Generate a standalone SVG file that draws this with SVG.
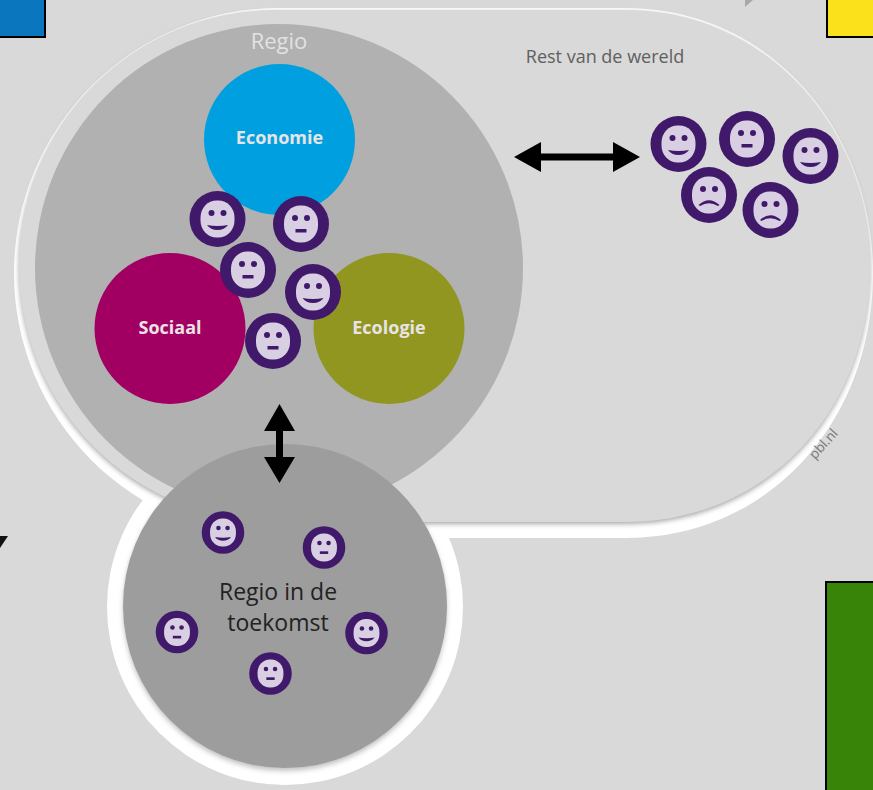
<svg xmlns="http://www.w3.org/2000/svg" width="873" height="790" viewBox="0 0 873 790">
<defs>
<filter id="b2" x="-10%" y="-10%" width="120%" height="120%"><feGaussianBlur stdDeviation="2.500"/></filter>
<filter id="b1" x="-10%" y="-10%" width="120%" height="120%"><feGaussianBlur stdDeviation="0.600"/></filter>
<path id="outer" d="M279 8 H625 C770 8 873 130 873 273 C873 420 770 538 625 538 H279 A265 265 0 0 1 279 8Z"/>
<path id="inner" d="M275 10 H625 C768 10 870 130 870 266 C870 410 768 522 625 522 H275 A256 256 0 0 1 275 10Z"/>
<g id="neutral"><circle r="28" class="o"/><rect x="-17" y="-18.500" width="34" height="37" rx="16" ry="17" class="f"/><circle cx="-6" cy="-6" r="3" class="o"/><circle cx="6" cy="-6" r="3" class="o"/><rect x="-5.500" y="5" width="11" height="3.500" class="o"/></g>
<g id="happy"><circle r="28" class="o"/><rect x="-17" y="-18.500" width="34" height="37" rx="16" ry="17" class="f"/><circle cx="-6" cy="-6" r="3" class="o"/><circle cx="6" cy="-6" r="3" class="o"/><path d="M-10.500 6 Q0 8 10.500 6 Q7 11 0 11 Q-7 11 -10.500 6Z" class="o"/></g>
<g id="sad"><circle r="28" class="o"/><rect x="-17" y="-18.500" width="34" height="37" rx="16" ry="17" class="f"/><circle cx="-6" cy="-6" r="3" class="o"/><circle cx="6" cy="-6" r="3" class="o"/><path d="M-10.500 10 Q0 0.500 10.500 10 L9 11 Q0 5.500 -9 11Z" class="o"/></g>
</defs>
<style>
.o{fill:#41196b}
.f{fill:#d9cfe3}
text{font-family:"Open Sans","Noto Sans",sans-serif}
.b{font-weight:700;font-size:18px;fill:#e9e4e4;text-anchor:middle}
.box{stroke:#000;stroke-width:2}
</style>
<rect id="background" width="873" height="790" fill="#d9d9d9"/>
<rect id="box-blue" x="-2" y="-2" width="47" height="39" fill="#0a76bd" class="box"/>
<rect id="box-yellow" x="827" y="-2" width="50" height="39" fill="#fae11c" class="box"/>
<rect id="box-green" x="826" y="582" width="50" height="212" fill="#378408" class="box"/>
<path id="mark-black" d="M0 536 H8 L0 548Z" fill="#111"/>
<path id="mark-grey" d="M745 0 H753 L745 7Z" fill="#a8a8a8"/>
<g id="rest-van-de-wereld">
<use href="#outer" fill="#fff"/>
<circle cx="285" cy="607" r="178" fill="#fff"/>
<circle cx="285" cy="609" r="162" fill="#c2c2c2" filter="url(#b2)"/>
<use href="#inner" y="2" fill="#a8a8a8" filter="url(#b2)"/>
<use href="#inner" fill="#d9d9d9" filter="url(#b1)"/>
<text x="605" y="63" font-size="18" fill="#606060" text-anchor="middle">Rest van de wereld</text>
<text transform="translate(815 460) rotate(-48)" font-size="13.500" fill="#777">pbl.nl</text>
</g>
<g id="regio">
<circle cx="279" cy="268" r="244" fill="#b1b1b1"/>
<text x="279" y="49" font-size="22" fill="#e2e2e2" text-anchor="middle">Regio</text>
</g>
<g id="economie"><circle cx="279.500" cy="139.500" r="75.500" fill="#00a0e0"/><text x="279.500" y="144" class="b">Economie</text></g>
<g id="sociaal"><circle cx="170" cy="328.500" r="75.500" fill="#a10062"/><text x="170" y="334" class="b">Sociaal</text></g>
<g id="ecologie"><circle cx="389" cy="328.500" r="75.500" fill="#919620"/><text x="389" y="334" class="b">Ecologie</text></g>
<g id="faces-regio">
<use href="#happy" x="217.500" y="219"/>
<use href="#neutral" x="301" y="224"/>
<use href="#neutral" x="248" y="270"/>
<use href="#happy" x="313" y="292"/>
<use href="#neutral" x="273" y="341"/>
</g>
<g id="faces-wereld">
<use href="#happy" x="678.500" y="144"/>
<use href="#neutral" x="747" y="139"/>
<use href="#happy" x="810.500" y="156"/>
<use href="#sad" x="709" y="195"/>
<use href="#sad" x="770.500" y="210"/>
</g>
<g id="toekomst">
<circle cx="285" cy="606" r="162" fill="#9d9d9d"/>
<text x="278" y="600" font-size="23" fill="#222" text-anchor="middle">Regio in de</text>
<text x="278" y="631" font-size="23" fill="#222" text-anchor="middle">toekomst</text>
<g transform="translate(223 532.500) scale(.76)"><use href="#happy"/></g>
<g transform="translate(324 547.500) scale(.76)"><use href="#neutral"/></g>
<g transform="translate(177 632) scale(.76)"><use href="#neutral"/></g>
<g transform="translate(366.500 633) scale(.76)"><use href="#happy"/></g>
<g transform="translate(270.500 673.500) scale(.76)"><use href="#neutral"/></g>
</g>
<g id="connectors" fill="#000">
<path d="M514 157 L541 142 V153.500 H613 V142 L640 157 L613 172 V160.500 H541 V172Z"/>
<path d="M279.500 404 L295 431 H283 V457 H295 L279.500 483 L264 457 H276 V431 H264Z"/>
</g>
</svg>
